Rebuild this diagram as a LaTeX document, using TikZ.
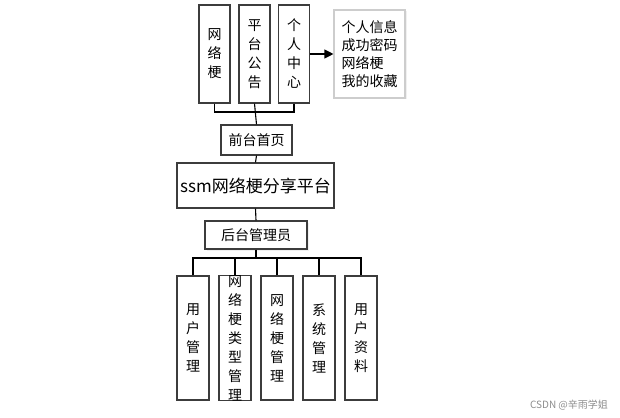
\documentclass[tikz,border=0pt]{standalone}
\usepackage{fontspec}
\setmainfont{Noto Sans CJK SC}
\usepackage{tikz}
\usetikzlibrary{arrows.meta, shadows}
\definecolor{BoxLine}{RGB}{60,60,60}
\definecolor{InfoLine}{RGB}{205,205,205}

\begin{document}
\begin{tikzpicture}[x=1pt, y=-1pt,
            vbox/.style={rectangle, draw=BoxLine, line width=1.1pt, fill=white,
                         minimum width=31pt, inner sep=0pt, align=center,
                         font=\fontsize{14}{19}\selectfont},
            hbox/.style={rectangle, draw=BoxLine, line width=1.1pt, fill=white,
                         inner sep=0pt, align=center, font=\fontsize{14}{17}\selectfont},
            link/.style={draw=black, line width=1.1pt}
          ]
          \useasboundingbox (0,0) rectangle (620,417);
          % front side
          \node[vbox, minimum height=98pt] (net) at (214.5,54) {网\\络\\梗};
          \node[vbox, minimum height=98pt] (notice) at (254.5,54) {平\\台\\公\\告};
          \node[vbox, minimum height=98pt] (center) at (294,54) {个\\人\\中\\心};
          \node[hbox, draw=InfoLine, minimum width=71pt, minimum height=88pt, align=left,
                font=\fontsize{14}{18}\selectfont,
                drop shadow={opacity=0.12, shadow xshift=1.5pt, shadow yshift=-1.5pt}] (info)
                at (369.5,54) {个人信息\\成功密码\\网络梗\\我的收藏};
          \node[hbox, minimum width=71pt, minimum height=30pt] (front) at (256.5,140) {前台首页};
          \node[hbox, minimum width=157pt, minimum height=45pt,
                font=\fontsize{17}{20}\selectfont] (title) at (255.5,185.5) {ssm网络梗分享平台};
          \node[hbox, minimum width=102pt, minimum height=28pt,
                drop shadow={opacity=0.12, shadow xshift=1.5pt, shadow yshift=-1.5pt}] (back)
                at (256,235) {后台管理员};
          % back side
          \node[vbox, minimum width=32pt, minimum height=124pt] (users) at (193,338) {用\\户\\管\\理};
          \node[vbox, minimum width=32pt, minimum height=124pt] (types) at (235,338) {网\\络\\梗\\类\\型\\管\\理};
          \node[vbox, minimum width=32pt, minimum height=124pt] (posts) at (277,338) {网\\络\\梗\\管\\理};
          \node[vbox, minimum width=32pt, minimum height=124pt] (system) at (319,338) {系\\统\\管\\理};
          \node[vbox, minimum width=32pt, minimum height=124pt] (profile) at (361,338) {用\\户\\资\\料};

          \coordinate (topbar) at (0,112);
          \coordinate (lowbar) at (0,258);
          \draw[link] (net.south) -- (net.south |- topbar) -- (center.south |- topbar) -- (center.south);
          \draw[link] (notice.south) -- (front.north);
          \draw[-{Triangle[length=9pt, width=9pt]}, link] (center.east) -- (info.west);
          \draw[link] (front.south) -- (title.north);
          \draw[link] (title.south) -- (back.north);
          \draw[link] (back.south) -- (back.south |- lowbar);
          \draw[link] (users.north) -- (users.north |- lowbar) -- (profile.north |- lowbar) -- (profile.north);
          \foreach \b in {types, posts, system}
            \draw[link] (\b.north) -- (\b.north |- lowbar);

          \node[font=\fontsize{10}{12}\selectfont, text=black!45] (mark) at (569,405) {CSDN @辛雨学姐};
        \end{tikzpicture}
\end{document}
